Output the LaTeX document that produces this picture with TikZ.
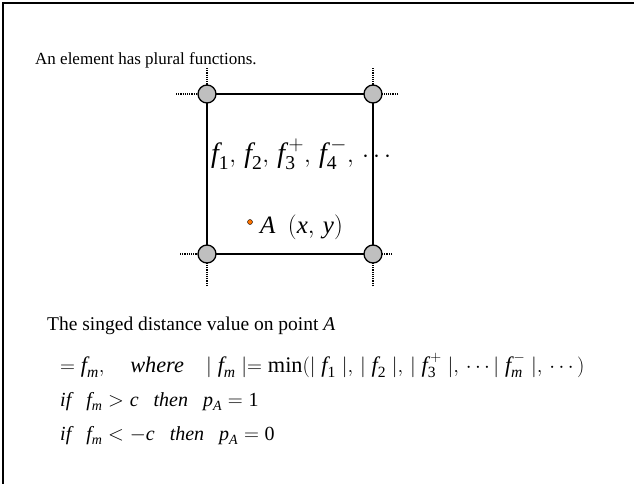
\documentclass[tikz,border=0pt]{standalone}
\usepackage{amsmath}
\usepackage{fontspec}
\setmainfont{Liberation Serif}
\newcommand{\vv}[1]{\textit{#1}}
\newcommand{\nn}[1]{\textrm{#1}}
\begin{document}
\begin{tikzpicture}[x=1pt,y=-1pt,
  corner/.style={circle,draw=black,fill=black!25,line width=1.3pt,minimum size=18pt,inner sep=0pt},
  stub/.style={densely dotted,line width=1.2pt},
  txt/.style={anchor=base west,inner sep=0pt}]
\useasboundingbox (0,0) rectangle (634,483);
\draw[line width=2pt] (3,490) -- (3,3) -- (640,3);
\coordinate (tl) at (207,94);
\coordinate (tr) at (373,94);
\coordinate (bl) at (207,254);
\coordinate (br) at (373,254);
\coordinate (tlw) at (176,94);
\coordinate (tln) at (207,68);
\coordinate (trn) at (373,68);
\coordinate (tre) at (398,94);
\coordinate (blw) at (180,254);
\coordinate (bls) at (207,286);
\coordinate (bre) at (392,254);
\coordinate (brs) at (373,286);
\draw[stub] (tlw) -- (tl) (tln) -- (tl) (trn) -- (tr) (tre) -- (tr)
  (blw) -- (bl) (bls) -- (bl) (bre) -- (br) (brs) -- (br);
\draw[line width=1.6pt] (tl) -- (tr) -- (br) -- (bl) -- cycle;
\node[corner] (ctl) at (tl) {};
\node[corner] (ctr) at (tr) {};
\node[corner] (cbl) at (bl) {};
\node[corner] (cbr) at (br) {};
\node[txt,font=\fontsize{17}{20}\selectfont] (head) at (35,64) {An element has plural functions.};
\node[txt,font=\fontsize{28}{32}\selectfont] (flist) at (211,162)
  {$\vv{f}_{\nn{1}},\,\vv{f}_{\nn{2}},\,\vv{f}_{\nn{3}}^{\,+},\,\vv{f}_{\nn{4}}^{\,-},\,\cdots$};
\node[circle,draw=black,line width=0.4pt,fill=orange!90!red,minimum size=5pt,inner sep=0pt] (pa) at (250,222) {};
\node[txt,font=\fontsize{25}{30}\selectfont] (alab) at (260,233) {$\vv{A}\ \ (\vv{x},\,\vv{y})$};
\node[txt,font=\fontsize{19.5}{23}\selectfont] (sd) at (47,330) {The singed distance value on point \vv{A}};
\node[txt,font=\fontsize{22.3}{26}\selectfont] (eq1) at (60,372)
  {$=\vv{f}_{\vv{m}},\quad\vv{where}\quad|\;\vv{f}_{\vv{m}}\;|{=}\;\nn{min}(|\;\vv{f}_{\nn{1}}\;|,\,|\;\vv{f}_{\nn{2}}\;|,\,|\;\vv{f}_{\nn{3}}^{\,+}\;|,\,\cdots|\;\vv{f}_{\vv{m}}^{\,-}\;|,\,\cdots)$};
\node[txt,font=\fontsize{20}{24}\selectfont] (eq2) at (60,406)
  {$\vv{if}\ \ \ \vv{f}_{\vv{m}}>\vv{c}\ \ \ \vv{then}\ \ \ \vv{p}_{\vv{A}}=\nn{1}$};
\node[txt,font=\fontsize{20}{24}\selectfont] (eq3) at (60,440)
  {$\vv{if}\ \ \ \vv{f}_{\vv{m}}<-\vv{c}\ \ \ \vv{then}\ \ \ \vv{p}_{\vv{A}}=\nn{0}$};
\end{tikzpicture}
\end{document}
